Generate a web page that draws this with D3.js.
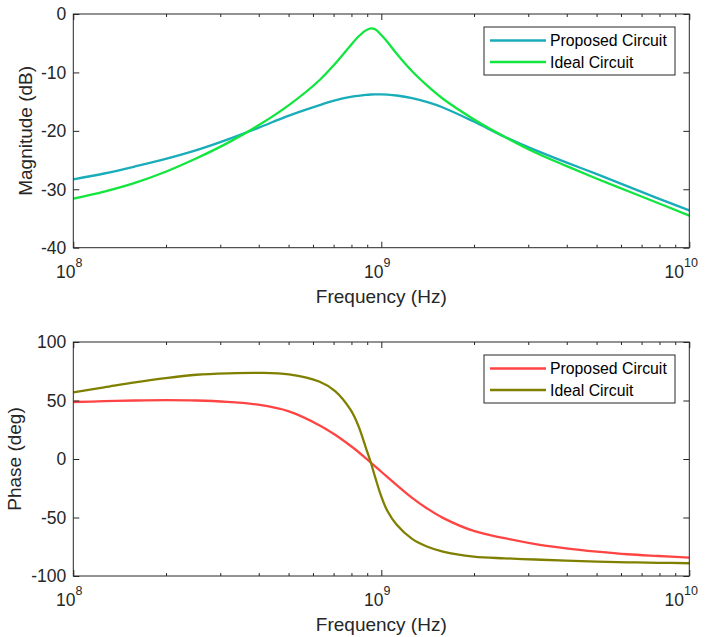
<!DOCTYPE html>
<html>
<head>
<meta charset="UTF-8">
<script src="https://d3js.org/d3.v7.min.js"></script>
<style>
  body { margin: 0; background: #fff; }
  svg { display: block; font-family: "Liberation Sans", Arial, sans-serif; }
</style>
</head>
<body>
<svg id="chart" width="709" height="637"></svg>
<script>
// frequency points, as log10(Hz)
const logFreq = [8.0, 8.1, 8.2, 8.3, 8.4, 8.5, 8.6, 8.7, 8.8, 8.85, 8.9, 8.925, 8.95, 8.966, 8.98, 9.0,
                 9.02, 9.05, 9.1, 9.15, 9.2, 9.3, 9.4, 9.5, 9.6, 9.7, 9.8, 9.9, 10.0];

// magnitude (dB)
const magProposed = [-28.3, -27.3, -26.1, -24.8, -23.3, -21.5, -19.5, -17.4, -15.6, -14.8, -14.2, -14.0, -13.85, -13.78, -13.75, -13.75,
                     -13.8, -13.95, -14.4, -15.1, -16.0, -18.4, -21.0, -23.3, -25.4, -27.4, -29.5, -31.6, -33.6];
const magIdeal    = [-31.6, -30.4, -28.9, -27.0, -24.7, -22.1, -19.1, -15.6, -11.3, -8.5, -5.4, -3.9, -2.8, -2.45, -2.6, -3.6,
                     -4.8, -6.8, -9.8, -12.3, -14.5, -18.0, -21.0, -23.7, -26.0, -28.2, -30.3, -32.4, -34.5];

// phase (deg)
const phaseProposed = [48.7, 49.4, 50.0, 50.3, 50.0, 48.8, 46.4, 40.7, 28.7, 20.7, 11.3, 6.2, 0.6, -3.0, -6.3, -10.9,
                       -15.5, -22.3, -33.2, -42.5, -50.3, -61.5, -67.7, -72.7, -76.3, -79.1, -81.4, -82.9, -84.3];
const phaseIdeal    = [57.0, 61.2, 65.5, 69.2, 72.0, 73.2, 73.6, 72.3, 66.0, 58.0, 42.1, 28.7, 9.5, -3.0, -15.5, -32.0,
                       -44.5, -56.3, -68.3, -75.0, -79.1, -83.4, -84.9, -85.9, -86.9, -87.7, -88.3, -88.7, -89.1];

const seriesNames = ["Proposed Circuit", "Ideal Circuit"];
const magTicks = [-40, -30, -20, -10, 0];
const phaseTicks = [-100, -50, 0, 50, 100];
const freqMajor = [1e8, 1e9, 1e10];
const freqExp = ["8", "9", "10"];

const svg = d3.select("#chart");
const axisColor = "#262626";

const x = d3.scaleLog().domain([1e8, 1e10]).range([73.3, 689.3]);
const minorTicks = [];
for (let d = 1e8; d < 1e10; d *= 10) {
    for (let k = 2; k <= 9; k++) minorTicks.push(d * k);
}

const panels = [
    { top: 14, bottom: 247.7, domain: [-40, 0], ticks: magTicks, label: "Magnitude (dB)", labelX: 32,
      series: [magProposed, magIdeal], colors: ["#19adb9", "#12e63e"] },
    { top: 342, bottom: 576, domain: [-100, 100], ticks: phaseTicks, label: "Phase (deg)", labelX: 21,
      series: [phaseProposed, phaseIdeal], colors: ["#ff4444", "#808000"] }
];

panels.forEach(p => {
    const y = d3.scaleLinear().domain(p.domain).range([p.bottom, p.top]);
    const g = svg.append("g");
    const h = p.bottom - p.top;

    // curves
    const clipId = "clip" + p.top;
    svg.append("clipPath").attr("id", clipId).append("rect")
        .attr("x", x.range()[0]).attr("y", p.top).attr("width", x.range()[1] - x.range()[0]).attr("height", h);

    const line = d3.line()
        .x(d => x(Math.pow(10, d[0])))
        .y(d => y(d[1]))
        .curve(d3.curveCatmullRom.alpha(0.5));

    p.series.forEach((vals, i) => {
        g.append("path")
            .datum(logFreq.map((f, j) => [f, vals[j]]))
            .attr("clip-path", "url(#" + clipId + ")")
            .attr("fill", "none")
            .attr("stroke", p.colors[i])
            .attr("stroke-width", 2.3)
            .attr("d", line);
    });

    // ticks (inside, all four sides)
    const axes = [
        [d3.axisBottom(x).tickValues(freqMajor).tickSize(-6), p.bottom],
        [d3.axisBottom(x).tickValues(minorTicks).tickSize(-3), p.bottom],
        [d3.axisTop(x).tickValues(freqMajor).tickSize(-6), p.top],
        [d3.axisTop(x).tickValues(minorTicks).tickSize(-3), p.top]
    ];
    axes.forEach(a => {
        g.append("g").attr("transform", `translate(0,${a[1]})`)
            .call(a[0].tickFormat(""))
            .call(s => s.select(".domain").remove())
            .call(s => s.selectAll("line").attr("stroke", axisColor));
    });
    g.append("g").attr("transform", `translate(${x.range()[0]},0)`)
        .call(d3.axisLeft(y).tickValues(p.ticks).tickSize(-6).tickFormat(""))
        .call(s => s.select(".domain").remove())
        .call(s => s.selectAll("line").attr("stroke", axisColor));
    g.append("g").attr("transform", `translate(${x.range()[1]},0)`)
        .call(d3.axisRight(y).tickValues(p.ticks).tickSize(-6).tickFormat(""))
        .call(s => s.select(".domain").remove())
        .call(s => s.selectAll("line").attr("stroke", axisColor));

    // box
    g.append("rect")
        .attr("x", x.range()[0]).attr("y", p.top)
        .attr("width", x.range()[1] - x.range()[0]).attr("height", h)
        .attr("fill", "none").attr("stroke", axisColor).attr("stroke-width", 1);

    // y tick labels
    g.selectAll(".ylab").data(p.ticks).enter().append("text")
        .attr("x", x.range()[0] - 7)
        .attr("y", d => y(d))
        .attr("dy", "0.36em")
        .attr("text-anchor", "end")
        .attr("font-size", 17.5)
        .attr("fill", axisColor)
        .text(d => d);

    // x tick labels 10^n
    freqMajor.forEach((f, i) => {
        const t = g.append("text")
            .attr("x", x(f) - (freqExp[i].length === 1 ? 4 : 8))
            .attr("y", p.bottom + 30)
            .attr("text-anchor", "middle")
            .attr("font-size", 17.5)
            .attr("fill", axisColor);
        t.append("tspan").text("10");
        t.append("tspan").attr("dy", -11).attr("font-size", 12.5).text(freqExp[i]);
    });

    // axis labels
    g.append("text")
        .attr("x", (x.range()[0] + x.range()[1]) / 2)
        .attr("y", p.bottom + 55)
        .attr("text-anchor", "middle")
        .attr("font-size", 19)
        .attr("fill", axisColor)
        .text("Frequency (Hz)");

    g.append("text")
        .attr("transform", `translate(${p.labelX},${(p.top + p.bottom) / 2}) rotate(-90)`)
        .attr("text-anchor", "middle")
        .attr("font-size", 19)
        .attr("fill", axisColor)
        .text(p.label);

    // legend
    const lx = 484;
    const leg = g.append("g");
    leg.append("rect")
        .attr("x", lx).attr("y", p.top + 13)
        .attr("width", 191).attr("height", 48)
        .attr("fill", "#fff").attr("stroke", axisColor).attr("stroke-width", 1);
    seriesNames.forEach((name, i) => {
        const yy = p.top + 26.5 + i * 21.5;
        leg.append("line")
            .attr("x1", lx + 6).attr("x2", lx + 62)
            .attr("y1", yy).attr("y2", yy)
            .attr("stroke", p.colors[i]).attr("stroke-width", 2.3);
        leg.append("text")
            .attr("x", lx + 66).attr("y", yy)
            .attr("dy", "0.36em")
            .attr("font-size", 15.8)
            .attr("fill", "#000")
            .text(name);
    });
});
</script>
</body>
</html>
